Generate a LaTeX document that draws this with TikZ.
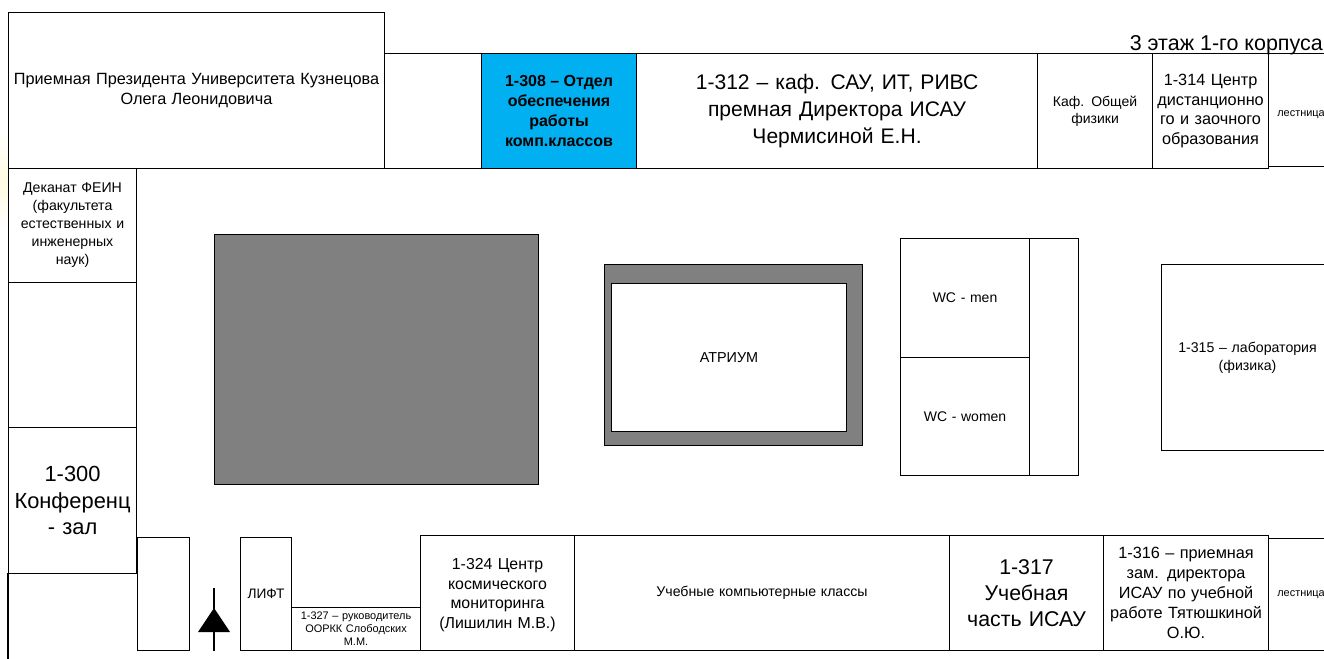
\documentclass[tikz,border=0pt]{standalone}
\usepackage{fontspec}
\setmainfont{Liberation Sans}
\definecolor{roomblue}{RGB}{0,176,240}
\definecolor{solidgrey}{RGB}{128,128,128}
\definecolor{paleglow}{RGB}{255,250,225}
\tikzset{
  px/.style={x=0.75pt,y=-0.75pt},
  wall/.style={draw=black,line width=0.8pt},
  roomshape/.style={wall,fill=white,align=center,inner sep=0pt,anchor=north west},
  greyshape/.style={wall,fill=solidgrey,inner sep=0pt,anchor=north west},
}
% name, x1, y1, x2, y2, font size, leading, text
\newcommand{\roombox}[8]{%
  \pgfmathsetmacro{\rw}{#4-#2}\pgfmathsetmacro{\rh}{#5-#3}%
  \node[roomshape,minimum width=\rw*0.75pt,minimum height=\rh*0.75pt,text width=\rw*0.75pt-1pt,
    font=\fontsize{#6}{#7}\selectfont] (#1) at (#2,#3) {#8};}
\begin{document}
\begin{tikzpicture}[px]
\useasboundingbox[fill=white] (0,0) rectangle (1324,659);
\begin{scope}
\clip (0,0) rectangle (1324,659);
\shade[top color=white,bottom color=white,middle color=paleglow] (0,130) rectangle (8,230);
% top row
\roombox{st1}{1268}{53}{1333}{166}{8.2}{10}{\rule{0pt}{11pt}лестница}
\roombox{pres}{8}{12}{384}{168}{12.2}{15}{Приемная Президента Университета Кузнецова\\Олега Леонидовича\\[3pt]}
\roombox{blank}{384}{53}{481}{168}{9}{11}{}
\node[roomshape,fill=roomblue,minimum width=155*0.75pt,minimum height=115*0.75pt,font=\fontsize{12}{14.8}\selectfont\bfseries] (r308) at (481,53) {1-308 – Отдел\\обеспечения\\работы\\комп.классов};
\roombox{r312}{636}{53}{1037}{168}{15.8}{20.6}{1-312 – каф. САУ, ИТ, РИВС\\премная Директора ИСАУ\\Чермисиной Е.Н.}
\roombox{phys}{1037}{53}{1152}{168}{10.5}{12.75}{Каф. Общей\\физики}
\roombox{r314}{1152}{53}{1268}{168}{12.2}{14.8}{1-314 Центр\\дистанционно\\го и заочного\\образования}
\node[anchor=base east,inner sep=0pt,font=\fontsize{16.1}{18}\selectfont] (title) at (1323,50.5) {3 этаж 1-го корпуса};
% left column
\roombox{dek}{8}{168}{136}{282}{10.6}{13.5}{Деканат ФЕИН\\(факультета\\естественных и\\инженерных\\наук)}
\roombox{l2}{8}{282}{136}{427}{9}{11}{}
\roombox{r300}{8}{427}{136}{573}{16.4}{20}{1-300\\Конференц\\- зал}
% centre
\node[greyshape,minimum width=324*0.75pt,minimum height=250*0.75pt] (grey) at (214,234) {};
\node[greyshape,minimum width=258*0.75pt,minimum height=181*0.75pt] (atout) at (604,264) {};
\roombox{atr}{611}{283}{846}{431}{10.8}{13}{АТРИУМ}
\roombox{men}{900}{238}{1029}{357}{10.5}{13}{WC - men}
\roombox{women}{900}{357}{1029}{475}{10.5}{13}{WC - women}
\roombox{wcside}{1029}{238}{1078}{475}{9}{11}{}
\roombox{r315}{1161}{264}{1333}{450}{10.6}{13.75}{1-315 – лаборатория\\(физика)}
% bottom left room, open at the foot of the page
\coordinate (lbcorner) at (8,573);
\coordinate (lbfoot) at (8,659);
\draw[wall] (lbcorner) -- (lbfoot);
% bottom row
\roombox{bl}{137}{537}{189}{650}{9}{11}{}
\roombox{lift}{240}{537}{291}{650}{10.3}{12}{ЛИФТ}
\roombox{r327}{291}{607}{420}{650}{8.2}{9.75}{1-327 – руководитель\\ООРКК Слободских\\М.М.}
\roombox{r324}{420}{535}{574}{650}{11.9}{14.8}{\rule{0pt}{11.5pt}1-324 Центр\\космического\\мониторинга\\(Лишилин М.В.)}
\roombox{cls}{574}{535}{949}{650}{10.6}{13}{Учебные компьютерные классы}
\roombox{st2}{1268}{538}{1333}{650}{8.2}{10}{лестница}
\roombox{r317}{949}{535}{1103}{650}{16}{19.5}{1-317\\Учебная\\часть ИСАУ}
\roombox{r316}{1103}{535}{1268}{650}{12.2}{15}{1-316 – приемная\\зам. директора\\ИСАУ по учебной\\работе Тятюшкиной\\О.Ю.}
% entrance marker
\coordinate (mtop) at (214,588);
\coordinate (mbot) at (214,651);
\draw[wall] (mtop) -- (mbot);
\fill[black] (214,608) -- (230,632) -- (198,632) -- cycle;
\end{scope}
\end{tikzpicture}
\end{document}
